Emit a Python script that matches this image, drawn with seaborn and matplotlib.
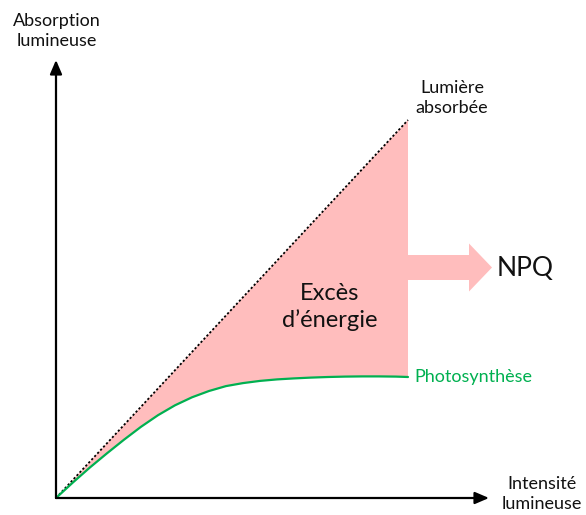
import matplotlib
matplotlib.use("Agg")
import matplotlib.pyplot as plt
import matplotlib.patches as mpatches
import seaborn as sns
import pandas as pd

# ---- data (arbitrary units) ----
intensity = [0, 17, 34, 51, 68, 85, 102, 119, 136, 153, 170, 187, 204, 221,
             238, 255, 272, 289, 306, 323, 340, 352]
photosynthesis = [0, 15.6, 30.6, 44.7, 58.3, 71.2, 82.8, 92.7, 100.7, 107.0,
                  111.9, 114.9, 117.1, 118.6, 119.6, 120.4, 121.0, 121.4,
                  121.6, 121.6, 121.4, 121.0]
absorbed_x = [0, 352]
absorbed_y = [0, 378]

sns.set_theme(style="white")
plt.rcParams['font.family'] = ['Lato', 'DejaVu Sans']

fig = plt.figure(figsize=(5.86, 5.15), dpi=100)
ax = fig.add_axes([0, 0, 1, 1])
ax.set_xlim(-56, 530)
ax.set_ylim(-17, 498)
ax.set_axis_off()

df_photo = pd.DataFrame({"x": intensity, "y": photosynthesis})
df_abs = pd.DataFrame({"x": absorbed_x, "y": absorbed_y})

# excess energy fill
fx = list(absorbed_x) + intensity[::-1]
fy = list(absorbed_y) + photosynthesis[::-1]
ax.fill(fx, fy, color="#FFBDBD", lw=0, zorder=1)

sns.lineplot(data=df_abs, x="x", y="y", ax=ax, color="black", lw=1.3,
             linestyle=(0, (1.2, 1.2)), zorder=3)
sns.lineplot(data=df_photo, x="x", y="y", ax=ax, color="#00B050", lw=1.6, zorder=4)

# NPQ arrow
ax.add_patch(mpatches.FancyArrow(352, 230.5, 84, 0, width=25, head_width=48,
                                 head_length=23, length_includes_head=True,
                                 color="#FFBDBD", lw=0, zorder=1))

# axes arrows
ax.annotate("", xy=(0, 438), xytext=(0, 0),
            arrowprops=dict(arrowstyle="-|>,head_length=0.7,head_width=0.3",
                            color="black", lw=1.6, shrinkA=0, shrinkB=0), zorder=5)
ax.annotate("", xy=(433, 0), xytext=(0, 0),
            arrowprops=dict(arrowstyle="-|>,head_length=0.7,head_width=0.3",
                            color="black", lw=1.6, shrinkA=0, shrinkB=0), zorder=5)

fs = 13
ax.text(1, 467, "Absorption\nlumineuse", ha="center", va="center", fontsize=fs,
        linespacing=1.3, color="#111111")
ax.text(486, 4, "Intensité\nlumineuse", ha="center", va="center", fontsize=fs,
        linespacing=1.3, color="#111111")
ax.text(396, 400, "Lumière\nabsorbée", ha="center", va="center", fontsize=fs,
        linespacing=1.3, color="#111111")
ax.text(358, 121, "Photosynthèse", ha="left", va="center", fontsize=fs,
        color="#00B050")
ax.text(274, 191, "Excès\nd\u2019énergie", ha="center", va="center", fontsize=17,
        linespacing=1.25, color="#111111")
ax.text(441, 229, "NPQ", ha="left", va="center", fontsize=19, color="#111111")

fig.savefig("out.png", dpi=100)
